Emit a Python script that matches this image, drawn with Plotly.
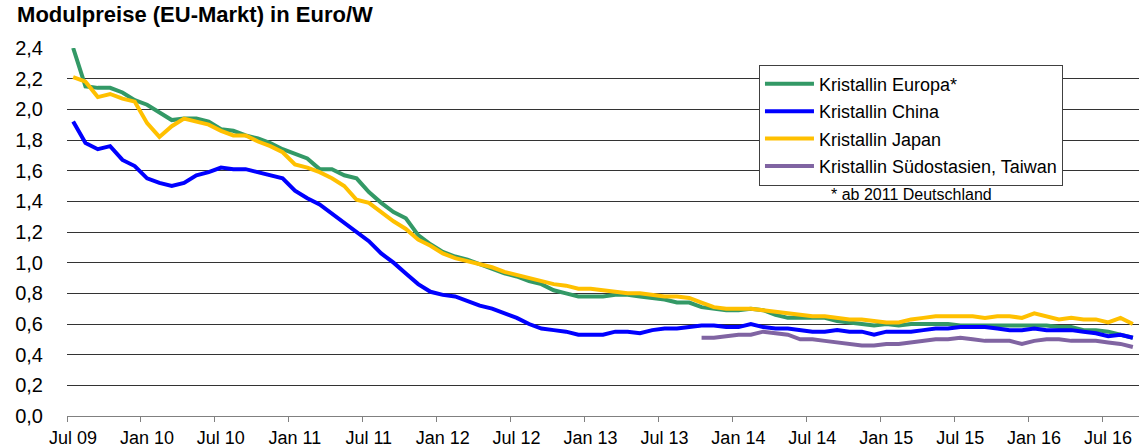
import plotly.graph_objects as go

# Monthly values from Jul 09 (index 0) to Sep 16 (index 86)
europa = [2.40, 2.15, 2.14, 2.14, 2.11, 2.06, 2.03, 1.98, 1.93, 1.94, 1.94, 1.92, 1.87, 1.86, 1.83, 1.81,
          1.78, 1.74, 1.71, 1.68, 1.61, 1.61, 1.57, 1.55, 1.46, 1.39,
          1.33, 1.29, 1.18, 1.12, 1.07, 1.04, 1.02, 0.99, 0.96, 0.93, 0.91, 0.88, 0.86, 0.82, 0.80, 0.78,
          0.78, 0.78, 0.79, 0.79,
          0.78, 0.77, 0.76, 0.74, 0.74, 0.71, 0.70, 0.69, 0.69, 0.70, 0.69, 0.66, 0.64, 0.64, 0.64, 0.64,
          0.62, 0.61, 0.60, 0.59, 0.60, 0.59, 0.60, 0.60, 0.60, 0.60, 0.59, 0.59, 0.59, 0.59, 0.59, 0.59,
          0.59, 0.59, 0.58, 0.58, 0.56, 0.56, 0.55, 0.53, 0.51]
china = [1.92, 1.78, 1.74, 1.76, 1.67, 1.63, 1.55, 1.52, 1.50, 1.52, 1.57, 1.59, 1.62, 1.61, 1.61, 1.59,
         1.57, 1.55, 1.47, 1.42, 1.38, 1.32,
         1.26, 1.20, 1.14, 1.06, 1.00, 0.93, 0.86, 0.81, 0.79, 0.78, 0.75, 0.72, 0.70, 0.67, 0.64, 0.60,
         0.57, 0.56, 0.55, 0.53, 0.53, 0.53, 0.55, 0.55,
         0.54, 0.56, 0.57, 0.57, 0.58, 0.59, 0.59, 0.58, 0.58, 0.60, 0.58, 0.57, 0.57, 0.56, 0.55, 0.55,
         0.56, 0.55, 0.55, 0.53, 0.55, 0.55, 0.55, 0.56, 0.57, 0.57, 0.58, 0.58, 0.58, 0.57, 0.56, 0.56,
         0.57, 0.56, 0.56, 0.56, 0.55, 0.54, 0.52, 0.53, 0.51]
japan = [2.21, 2.18, 2.08, 2.10, 2.07, 2.05, 1.91, 1.82, 1.89, 1.94, 1.92, 1.90, 1.86, 1.83, 1.83, 1.79,
         1.76, 1.72, 1.64, 1.62, 1.59, 1.55, 1.50, 1.41, 1.39, 1.33,
         1.27, 1.22, 1.15, 1.11, 1.06, 1.03, 1.01, 0.99, 0.97, 0.94, 0.92, 0.90, 0.88, 0.86, 0.85, 0.83,
         0.83, 0.82, 0.81, 0.80,
         0.80, 0.79, 0.78, 0.78, 0.77, 0.74, 0.71, 0.70, 0.70, 0.70, 0.69, 0.68, 0.67, 0.66, 0.65, 0.65,
         0.64, 0.63, 0.63, 0.62, 0.61, 0.61, 0.63, 0.64, 0.65, 0.65, 0.65, 0.65, 0.64, 0.65, 0.65, 0.64,
         0.67, 0.65, 0.63, 0.64, 0.63, 0.63, 0.61, 0.64, 0.60]
suedostasien = [None] * 51 + [
    0.51, 0.51, 0.52, 0.53, 0.53, 0.55, 0.54, 0.53, 0.50, 0.50, 0.49, 0.48, 0.47, 0.46, 0.46, 0.47,
    0.47, 0.48, 0.49, 0.50, 0.50, 0.51, 0.50, 0.49, 0.49, 0.49, 0.47, 0.49, 0.50, 0.50, 0.49, 0.49,
    0.49, 0.48, 0.47, 0.45]

months = list(range(len(europa)))
tick_labels = ["Jul 09", "Jan 10", "Jul 10", "Jan 11", "Jul 11", "Jan 12", "Jul 12", "Jan 13",
               "Jul 13", "Jan 14", "Jul 14", "Jan 15", "Jul 15", "Jan 16", "Jul 16"]
tick_pos = [6 * k - 0.5 for k in range(len(tick_labels))]

series = [
    ("Kristallin Europa*", europa, "#339966"),
    ("Kristallin China", china, "#0000FF"),
    ("Kristallin Japan", japan, "#FFC000"),
    ("Kristallin Südostasien, Taiwan", suedostasien, "#8064A2"),
]

font = "Liberation Sans, Arial, sans-serif"
fig = go.Figure()
for name, vals, col in series:
    fig.add_trace(go.Scatter(x=months, y=vals, mode="lines", name=name, legendgroup=name,
                             line=dict(color=col, width=4)))

fig.update_layout(
    width=1139, height=448,
    margin=dict(l=67, r=0, t=48, b=32),
    paper_bgcolor="white", plot_bgcolor="white",
    separators=",.",
    font=dict(family=font, size=18, color="black"),
    title=dict(text="<b>Modulpreise (EU-Markt) in Euro/W</b>", font=dict(size=22, color="black"),
               x=0.015, xref="container", xanchor="left", y=0.968, yref="container", yanchor="middle"),
    legend=dict(x=0.6455, y=0.955, xanchor="left", yanchor="top", bgcolor="white",
                bordercolor="#404040", borderwidth=1, font=dict(size=18), tracegroupgap=1,
                itemwidth=49),
    showlegend=True,
)
fig.update_xaxes(range=[-0.5, 86.5], tickmode="array", tickvals=tick_pos, ticktext=tick_labels,
                 ticks="outside", ticklen=5, tickcolor="#808080", ticklabelshift=6, automargin=False,
                 showline=True, linecolor="#808080", linewidth=1, showgrid=False, zeroline=False)
fig.update_yaxes(range=[0, 2.4], dtick=0.2, tickformat=".1f", showgrid=True, gridcolor="#333333",
                 gridwidth=1, zeroline=False, showline=False, ticklabelstandoff=23, automargin=False,
                 tickfont=dict(size=20))

fig.add_annotation(text="* ab 2011 Deutschland", x=0.788, y=0.602, xref="paper", yref="paper",
                   xanchor="center", showarrow=False, font=dict(size=16))

# page body has a default 8px margin; remove it so the figure sits at the window corner
fig.write_html("out.html", config={"displayModeBar": False},
               post_script="document.body.style.margin='0';")
